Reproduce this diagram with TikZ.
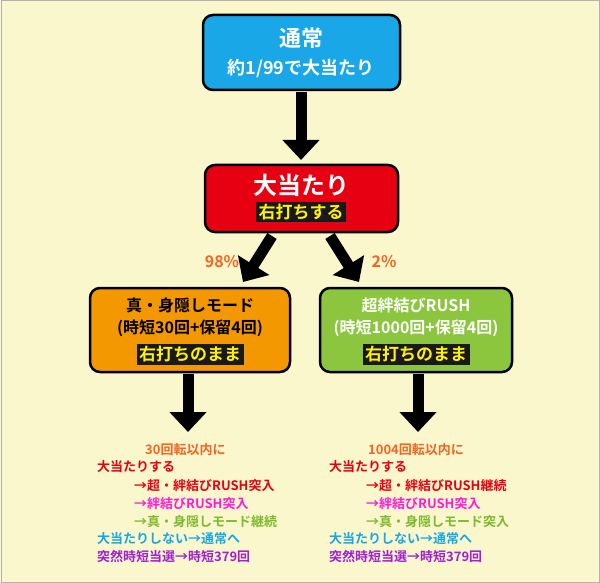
\documentclass[tikz,border=0pt]{standalone}
\usepackage{fontspec}
\setmainfont{Noto Sans CJK JP}[BoldFont={* Bold}]
\usetikzlibrary{arrows.meta}
\definecolor{bg}{HTML}{FBF7CC}
\definecolor{cblue}{HTML}{1AA7E8}
\definecolor{cred}{HTML}{E60012}
\definecolor{corange}{HTML}{F39800}
\definecolor{cgreen}{HTML}{8CC63F}
\definecolor{ctxto}{HTML}{F26522}
\definecolor{cmag}{HTML}{FF1AD9}
\definecolor{colive}{HTML}{7DBA2F}
\definecolor{cpur}{HTML}{A020D0}
\definecolor{cyel}{HTML}{FFF200}
\begin{document}
\begin{tikzpicture}[x=1pt,y=-1pt,font=\bfseries,
 box/.style={draw=black,line width=2.5pt,rounded corners=10pt},
 tag/.style={fill=black!90,text=cyel,inner sep=2.5pt,font=\bfseries\fontsize{17}{17}\selectfont},
 arr/.style={line width=11pt,-{Triangle[length=20pt,width=36pt]}},
 t/.style={anchor=west,inner sep=0pt,font=\bfseries\fontsize{13}{13}\selectfont}]
\useasboundingbox (0,0) rectangle (600,583);
\fill[bg] (0,0) rectangle (600,583);
\draw[gray!60,line width=1pt] (1,1) rectangle (599,582);
% boxes
\draw[box,fill=cblue] (203,15) rectangle (400,90);
\node[text=white,font=\bfseries\fontsize{22}{22}\selectfont] (n0) at (301,38) {通常};
\node[text=white,font=\bfseries\fontsize{18}{18}\selectfont] (n0b) at (301,68) {約1/99で大当たり};
\draw[box,fill=cred] (205,165) rectangle (398,232);
\node[text=white,font=\bfseries\fontsize{24}{24}\selectfont] (n1) at (301,185) {大当たり};
\node[tag] (n1b) at (301,212) {右打ちする};
\draw[box,fill=corange] (90,288) rectangle (290,372);
\node[text=black,font=\bfseries\fontsize{16}{16}\selectfont] (l1) at (190,305) {真・身隠しモード};
\node[text=black,font=\bfseries\fontsize{16}{16}\selectfont] (l2) at (190,328) {(時短30回+保留4回)};
\node[tag] (l3) at (190,354) {右打ちのまま};
\draw[box,fill=cgreen] (320,288) rectangle (512,372);
\node[text=white,font=\bfseries\fontsize{16}{16}\selectfont] (r1) at (416,305) {超絆結びRUSH};
\node[text=white,font=\bfseries\fontsize{16}{16}\selectfont] (r2) at (416,328) {(時短1000回+保留4回)};
\node[tag] (r3) at (416,354) {右打ちのまま};
% arrows
\coordinate (a0) at (301,92); \coordinate (a1) at (301,160);
\draw[arr] (a0) -- (a1);
\coordinate (b0) at (272,236); \coordinate (b1) at (243,282);
\draw[arr] (b0) -- (b1);
\coordinate (c0) at (330,236); \coordinate (c1) at (359,282);
\draw[arr] (c0) -- (c1);
\coordinate (d0) at (188,374); \coordinate (d1) at (188,432);
\draw[arr] (d0) -- (d1);
\coordinate (e0) at (418,374); \coordinate (e1) at (418,432);
\draw[arr] (e0) -- (e1);
\node[text=ctxto,font=\bfseries\fontsize{16}{16}\selectfont] (p1) at (222,262) {98\%};
\node[text=ctxto,font=\bfseries\fontsize{16}{16}\selectfont] (p2) at (384,262) {2\%};
% left list
\node[t,text=ctxto] (L1) at (145,450) {30回転以内に};
\node[t,text=cred] (L2) at (97,467) {大当たりする};
\node[t,text=cred] (L3) at (134,486) {→超・絆結びRUSH突入};
\node[t,text=cmag] (L4) at (134,504) {→絆結びRUSH突入};
\node[t,text=colive] (L5) at (134,522) {→真・身隠しモード継続};
\node[t,text=cblue] (L6) at (97,539) {大当たりしない→通常へ};
\node[t,text=cpur] (L7) at (97,556) {突然時短当選→時短379回};
% right list
\node[t,text=ctxto] (R1) at (368,450) {1004回転以内に};
\node[t,text=cred] (R2) at (329,467) {大当たりする};
\node[t,text=cred] (R3) at (366,486) {→超・絆結びRUSH継続};
\node[t,text=cmag] (R4) at (366,504) {→絆結びRUSH突入};
\node[t,text=colive] (R5) at (366,522) {→真・身隠しモード突入};
\node[t,text=cblue] (R6) at (329,539) {大当たりしない→通常へ};
\node[t,text=cpur] (R7) at (329,556) {突然時短当選→時短379回};
\end{tikzpicture}
\end{document}
